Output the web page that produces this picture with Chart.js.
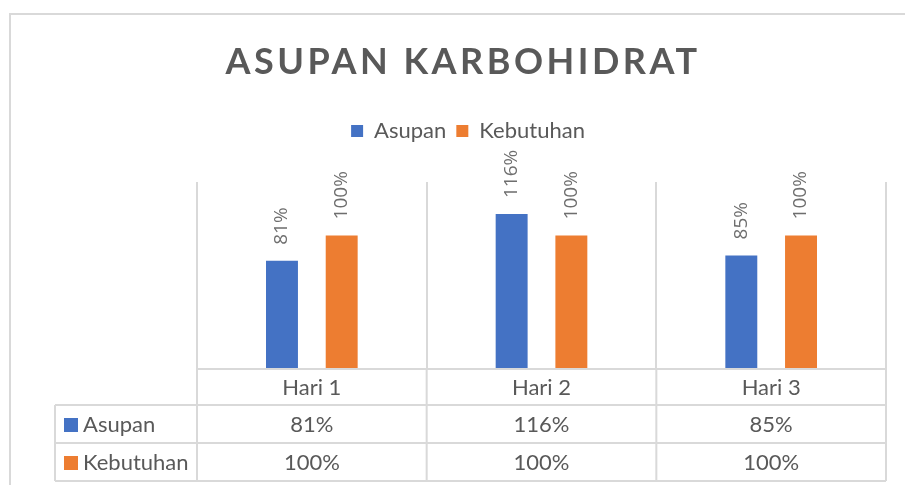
<!DOCTYPE html>
<html>
<head>
<meta charset="utf-8">
<script src="https://cdn.jsdelivr.net/npm/chart.js@4.4.1/dist/chart.umd.min.js"></script>
<style>
  html, body { margin: 0; padding: 0; background: #ffffff; }
  #wrap { width: 905px; height: 485px; position: relative; }
</style>
</head>
<body>
<div id="wrap"><canvas id="c" width="905" height="485"></canvas></div>
<script>
// ---- data ----
const chartTitle = 'ASUPAN KARBOHIDRAT';
const categories = ['Hari 1', 'Hari 2', 'Hari 3'];
const seriesNames = ['Asupan', 'Kebutuhan'];
const asupanValues = [81, 116, 85];
const kebutuhanValues = [100, 100, 100];

// ---- styles ----
const COLORS = ['#4472C4', '#ED7D31'];
const GRID = '#d9d9d9';
const TEXT = '#595959';
const FONT = 'Lato, "Open Sans", sans-serif';
const LABEL_FONT = '"Open Sans", "Noto Sans", sans-serif';

const seriesValues = [asupanValues, kebutuhanValues];
const pct = v => v + '%';

// outer chart frame
const framePlugin = {
  id: 'frame',
  beforeDraw(chart) {
    const ctx = chart.ctx;
    ctx.save();
    ctx.fillStyle = '#ffffff';
    ctx.fillRect(0, 0, chart.width, chart.height);
    ctx.strokeStyle = GRID;
    ctx.lineWidth = 2;
    ctx.beginPath();
    ctx.moveTo(10, chart.height);
    ctx.lineTo(10, 14);
    ctx.lineTo(chart.width, 14);
    ctx.stroke();
    ctx.restore();
  }
};

// spaced-out title
const titlePlugin = {
  id: 'spacedTitle',
  afterDraw(chart) {
    const ctx = chart.ctx;
    ctx.save();
    ctx.font = 'bold 36px ' + FONT;
    ctx.fillStyle = TEXT;
    ctx.textAlign = 'center';
    ctx.textBaseline = 'middle';
    try { ctx.letterSpacing = '3.5px'; } catch (e) {}
    ctx.fillText(chartTitle, 463, 62);
    ctx.restore();
  }
};

// rotated value labels above bars
const labelPlugin = {
  id: 'barLabels',
  afterDatasetsDraw(chart) {
    const ctx = chart.ctx;
    ctx.save();
    ctx.font = '19px ' + LABEL_FONT;
    ctx.fillStyle = '#6e6e6e';
    ctx.textAlign = 'left';
    ctx.textBaseline = 'middle';
    chart.data.datasets.forEach((ds, di) => {
      const meta = chart.getDatasetMeta(di);
      meta.data.forEach((bar, i) => {
        ctx.save();
        ctx.translate(bar.x, bar.y - 16);
        ctx.rotate(-Math.PI / 2);
        ctx.fillText(pct(ds.data[i]), 0, 0);
        ctx.restore();
      });
    });
    ctx.restore();
  }
};

// data table under the plot
const tablePlugin = {
  id: 'dataTable',
  afterDraw(chart) {
    const ctx = chart.ctx;
    const x = chart.scales.x;
    const area = chart.chartArea;
    const left = 55;
    const rowTops = [area.bottom, area.bottom + 36, area.bottom + 74, area.bottom + 112];
    const n = categories.length;
    const step = (area.right - area.left) / n;
    const cols = [];
    for (let i = 0; i <= n; i++) cols.push(area.left + step * i);

    ctx.save();
    ctx.strokeStyle = GRID;
    ctx.lineWidth = 2;
    ctx.beginPath();
    ctx.moveTo(area.left, rowTops[0]); ctx.lineTo(area.right, rowTops[0]);
    for (let r = 1; r < rowTops.length; r++) {
      ctx.moveTo(left, rowTops[r]); ctx.lineTo(area.right, rowTops[r]);
    }
    cols.forEach(cx => { ctx.moveTo(cx, rowTops[0]); ctx.lineTo(cx, rowTops[3]); });
    ctx.moveTo(left, rowTops[1]); ctx.lineTo(left, rowTops[3]);
    ctx.stroke();

    ctx.font = '22px ' + FONT;
    ctx.fillStyle = TEXT;
    ctx.textBaseline = 'middle';
    ctx.textAlign = 'center';
    categories.forEach((c, i) => {
      ctx.fillText(c, x.getPixelForValue(i), (rowTops[0] + rowTops[1]) / 2 + 1);
    });
    seriesNames.forEach((name, s) => {
      const cy = (rowTops[s + 1] + rowTops[s + 2]) / 2 + 1;
      ctx.fillStyle = COLORS[s];
      ctx.fillRect(64, cy - 7, 14, 14);
      ctx.fillStyle = TEXT;
      ctx.textAlign = 'left';
      ctx.fillText(name, 83, cy);
      ctx.textAlign = 'center';
      seriesValues[s].forEach((v, i) => {
        ctx.fillText(pct(v), x.getPixelForValue(i), cy);
      });
    });
    ctx.restore();
  }
};

new Chart(document.getElementById('c'), {
  type: 'bar',
  data: {
    labels: categories,
    datasets: seriesNames.map((name, s) => ({
      label: name,
      data: seriesValues[s],
      backgroundColor: COLORS[s],
      borderWidth: 0,
      categoryPercentage: 0.52,
      barPercentage: 0.535
    }))
  },
  options: {
    responsive: false,
    animation: false,
    devicePixelRatio: 1,
    layout: { padding: { left: 50, right: 19, top: 110, bottom: 116 } },
    plugins: {
      title: { display: false },
      tooltip: { enabled: false },
      legend: {
        display: true,
        position: 'top',
        labels: {
          boxWidth: 12,
          boxHeight: 12,
          padding: 10,
          color: TEXT,
          font: { family: FONT, size: 22 }
        }
      }
    },
    scales: {
      x: {
        offset: true,
        grid: { display: true, offset: true, color: GRID, lineWidth: 2, drawTicks: false },
        border: { display: true, color: GRID, width: 2 },
        ticks: { display: false }
      },
      spacer: {
        type: 'category',
        axis: 'x',
        position: 'top',
        display: true,
        grid: { display: false, drawTicks: false },
        border: { display: false },
        ticks: { display: false },
        afterFit(scale) { scale.height = 30; }
      },
      y: {
        display: true,
        min: 0,
        max: 140,
        grid: { display: false, drawTicks: false },
        border: { display: false },
        ticks: { display: false },
        afterFit(scale) { scale.width = 147; }
      }
    }
  },
  plugins: [framePlugin, titlePlugin, labelPlugin, tablePlugin]
});
</script>
</body>
</html>
